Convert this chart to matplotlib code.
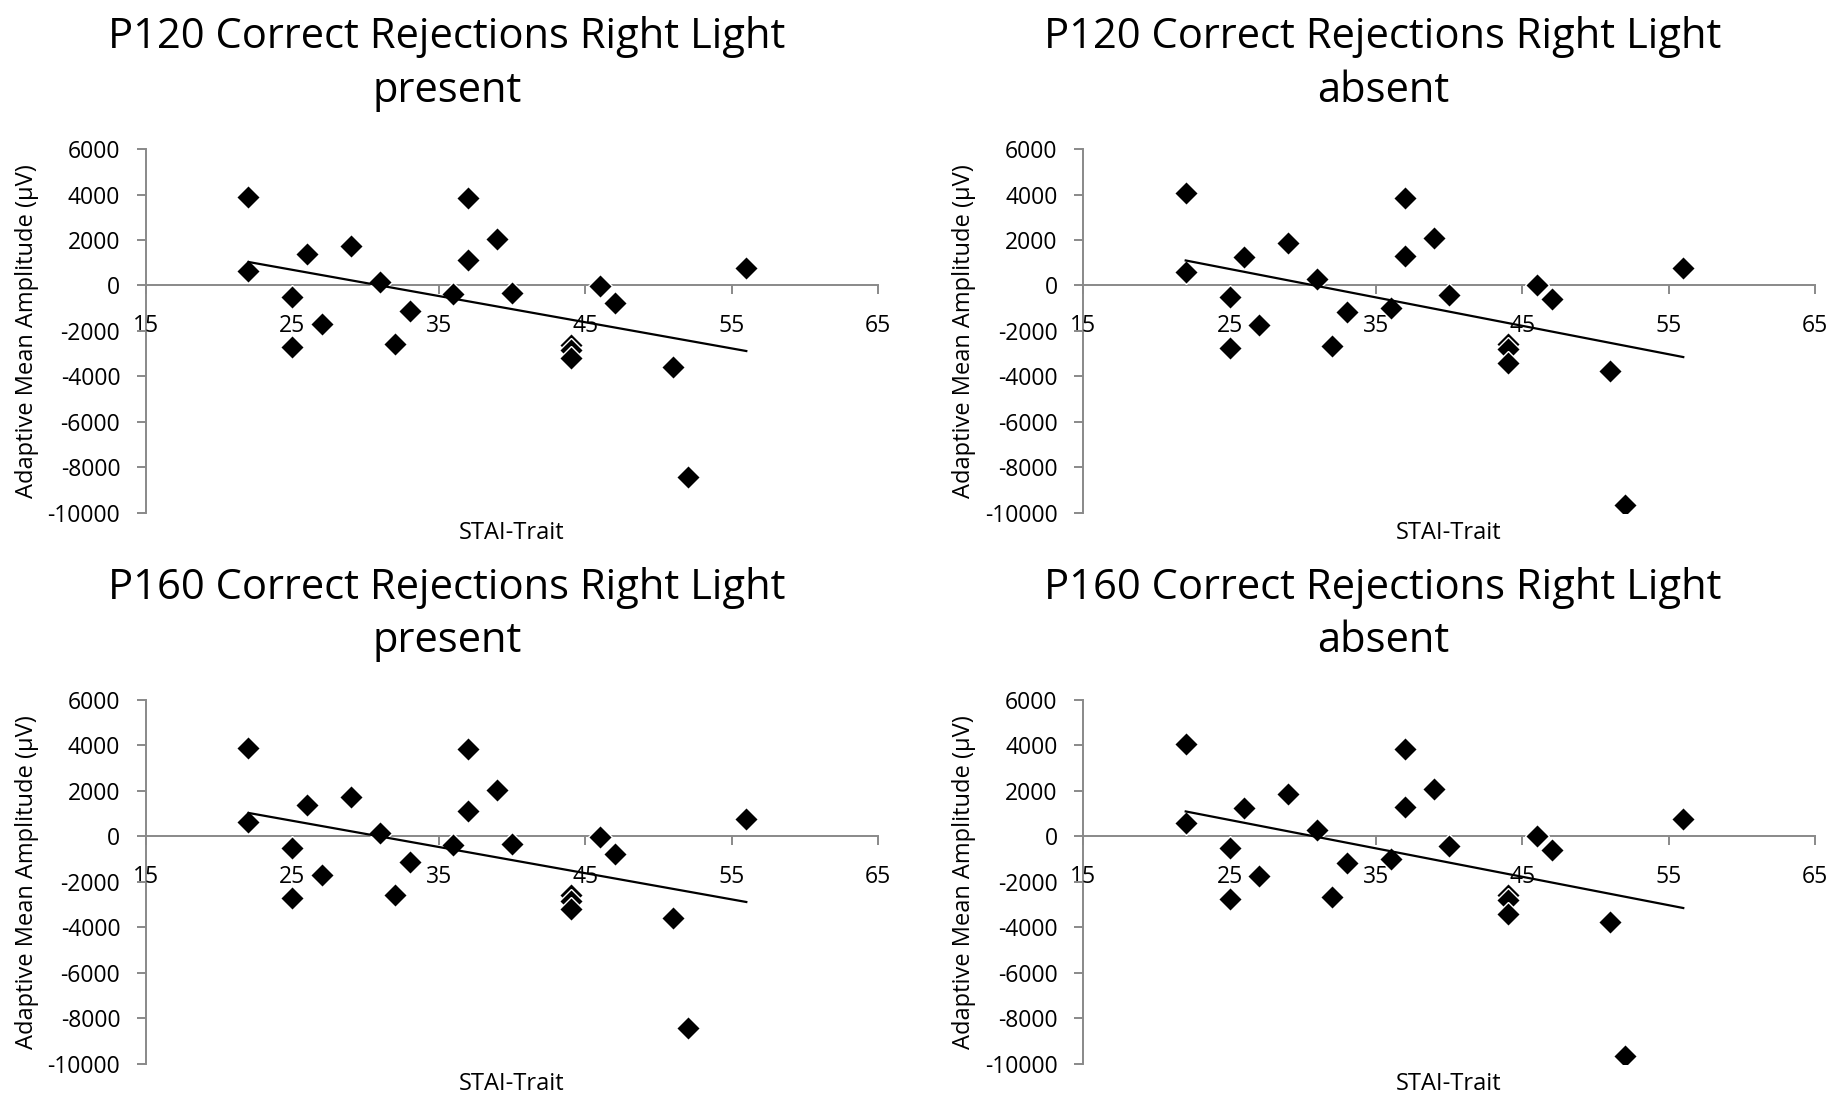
import numpy as np
import matplotlib.pyplot as plt

plt.rcParams['font.family'] = ['Open Sans', 'DejaVu Sans']

# STAI-Trait scores (same participants in every panel)
stai_trait = [22, 22, 25, 25, 26, 27, 29, 31, 32, 33, 36, 37, 37, 39, 40,
              44, 44, 44, 46, 47, 51, 52, 56]

# adaptive mean amplitudes
p120_present = [3900, 630, -500, -2715, 1390, -1716, 1729, 160, -2596, -1130, -396,
                3827, 1100, 2037, -352, -2600, -2850, -3185, -44, -792, -3580, -8420, 761]
p120_absent = [4050, 600, -500, -2745, 1260, -1747, 1848, 290, -2670, -1175, -985,
               3827, 1289, 2068, -414, -2570, -2800, -3430, 0, -616, -3785, -9666, 748]
p160_present = [3900, 630, -500, -2715, 1390, -1716, 1729, 160, -2596, -1130, -396,
                3827, 1100, 2037, -352, -2600, -2850, -3185, -44, -792, -3580, -8420, 761]
p160_absent = [4050, 600, -500, -2745, 1260, -1747, 1848, 290, -2670, -1175, -985,
               3827, 1289, 2068, -414, -2570, -2800, -3430, 0, -616, -3785, -9666, 748]

titles = ["P120 Correct Rejections Right Light\npresent",
          "P120 Correct Rejections Right Light\nabsent",
          "P160 Correct Rejections Right Light\npresent",
          "P160 Correct Rejections Right Light\nabsent"]
series = [p120_present, p120_absent, p160_present, p160_absent]

x_ticks = [15, 25, 35, 45, 55, 65]
y_ticks = [6000, 4000, 2000, 0, -2000, -4000, -6000, -8000, -10000]

axis_grey = '#898989'

fig = plt.figure(figsize=(18.32, 10.96), dpi=100)

# panel boxes in figure fractions: left, bottom, width, height
boxes = [[0.0797, 0.5322, 0.3996, 0.3318],
         [0.5913, 0.5322, 0.3994, 0.3318],
         [0.0797, 0.0295, 0.3996, 0.3318],
         [0.5913, 0.0295, 0.3994, 0.3318]]
title_pos = [(0.244, 0.985), (0.755, 0.985), (0.244, 0.4826), (0.755, 0.4826)]

for box, title, tp, amp in zip(boxes, titles, title_pos, series):
    ax = fig.add_axes(box)
    x = np.array(stai_trait, dtype=float)
    y = np.array(amp, dtype=float)

    ax.plot(x, y, linestyle='none', marker='D', markersize=12.5,
            markerfacecolor='black', markeredgecolor='white',
            markeredgewidth=1.0, zorder=3)

    # linear trendline over the data range
    k, b = np.polyfit(x, y, 1)
    xs = np.array([x.min(), x.max()])
    ax.plot(xs, k * xs + b, color='black', linewidth=1.6, zorder=4)

    ax.set_xlim(15, 65)
    ax.set_ylim(-10000, 6000)
    ax.set_xticks(x_ticks)
    ax.set_yticks(y_ticks)
    ax.set_yticklabels([str(v) for v in y_ticks])

    for s in ['top', 'right']:
        ax.spines[s].set_visible(False)
    ax.spines['bottom'].set_position(('data', 0))
    ax.spines['left'].set_position(('data', 15))
    for s in ['bottom', 'left']:
        ax.spines[s].set_color(axis_grey)
        ax.spines[s].set_linewidth(1.4)
        ax.spines[s].set_zorder(1)

    ax.tick_params(axis='both', colors=axis_grey, labelcolor='black',
                   labelsize=16.5, width=1.4, length=6.5, direction='out')
    ax.tick_params(axis='x', pad=14)
    ax.tick_params(axis='y', pad=12)

    ax.set_xlabel('STAI-Trait', fontsize=17)
    ax.xaxis.label.set_va('center')
    ax.xaxis.set_label_coords(0.5, -0.057)
    ax.set_ylabel('Adaptive Mean Amplitude (µV)', fontsize=17)
    ax.yaxis.set_label_coords(-0.146, 0.5)
    ax.patch.set_visible(False)

    fig.text(tp[0], tp[1], title, ha='center', va='top', fontsize=30,
             linespacing=1.35)

fig.savefig('out.png', dpi=100, facecolor='white')
